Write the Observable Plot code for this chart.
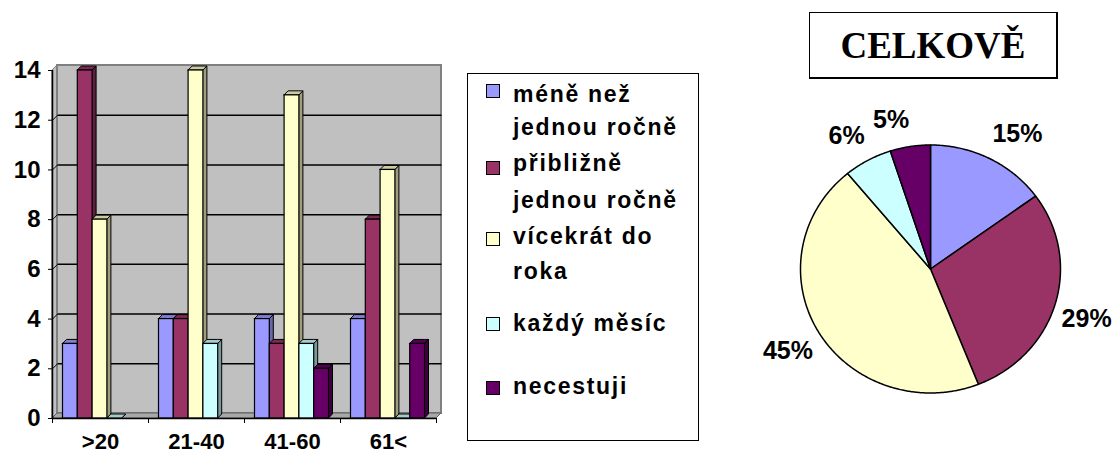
<!DOCTYPE html>
<html><head><meta charset="utf-8">
<script src="https://cdn.jsdelivr.net/npm/d3@7"></script>
<script src="https://cdn.jsdelivr.net/npm/@observablehq/plot@0.6"></script>
<style>
body{margin:0;background:#fff;}
#root{position:relative;width:1117px;height:456px;overflow:hidden;font-family:"Liberation Sans",Arial,sans-serif;}
#root svg{position:absolute;top:0;}
#title{position:absolute;left:809px;top:12px;width:246px;height:64px;border:1px solid #000;border-right-width:2px;border-bottom-width:2px;
  font-family:"Liberation Serif","Times New Roman",serif;font-weight:700;font-size:37px;line-height:66px;text-align:center;}
#legend{position:absolute;left:467px;top:73px;width:230px;height:366px;border:1px solid #000;}
.sw{position:absolute;width:12px;height:12px;border:1px solid #000;}
.lt{position:absolute;font-family:"Liberation Sans",Arial,sans-serif;font-weight:700;font-size:23px;line-height:33px;letter-spacing:1.7px;white-space:nowrap;color:#000;}
</style></head><body><div id="root"></div>
<script>
// ---- data ----
const categories = [">20", "21-40", "41-60", "61<"];
const seriesNames = ["méně než jednou ročně", "přibližně jednou ročně", "vícekrát do roka", "každý měsíc", "necestuji"];
const legendLines = [["méně než", "jednou ročně"], ["přibližně", "jednou ročně"], ["vícekrát do", "roka"], ["každý měsíc"], ["necestuji"]];
const lessThanOnce = [3, 4, 4, 4];
const aboutOnce = [14, 4, 3, 8];
const severalTimes = [8, 14, 13, 10];
const everyMonth = [0, 3, 3, 0];
const notTravel = [null, null, 2, 3];
const yTicks = [0, 2, 4, 6, 8, 10, 12, 14];
const pieTitle = "CELKOVĚ";

// ---- styles ----
const colors = ["#9999FF", "#993366", "#FFFFCC", "#CCFFFF", "#660066"];
const topColors = ["#7F7FCC", "#7A2952", "#CCCCA3", "#A3CCCC", "#520052"];
const sideColors = ["#6666A8", "#5C1F3D", "#9E9E7E", "#7A9999", "#3D003D"];
const series = [lessThanOnce, aboutOnce, severalTimes, everyMonth, notTravel];

const root = document.getElementById("root");

// ---- bar chart ----
const W1 = 465, H = 456, mL = 52, mR = W1 - 436, mT = 70, mB = H - 418;
const pxX = (W1 - mR - mL) / 4, pxY = (H - mB - mT) / 14;
const WDX = 5 / pxX, WDY = 5 / pxY, BDX = 4 / pxX, BDY = 4 / pxY;
const OFF = 10.5 / pxX, BW = 14.8 / pxX;

const bars = [];
categories.forEach((c, i) => series.forEach((s, j) => {
  const v = s[i];
  if (v == null) return;
  const x1 = i + OFF + j * BW;
  bars.push({id: i + "-" + j, j, v, x1, x2: x1 + BW});
}));
const sides = bars.flatMap(b => [
  {id: b.id, j: b.j, x: b.x2, y1: 0, y2: b.v},
  {id: b.id, j: b.j, x: b.x2 + BDX, y1: BDY, y2: b.v + BDY}
]);
const tops = bars.flatMap(b => [
  {id: b.id, j: b.j, x: b.x1, y1: b.v, y2: b.v},
  {id: b.id, j: b.j, x: b.x1 + BDX, y1: b.v, y2: b.v + BDY},
  {id: b.id, j: b.j, x: b.x2, y1: b.v, y2: b.v + BDY},
  {id: b.id, j: b.j, x: b.x2 + BDX, y1: b.v + BDY, y2: b.v + BDY}
]);
const grid = yTicks.filter(t => t > 0 && t < 14);
const floor = [
  {x: 0, y1: 0, y2: 0}, {x: WDX, y1: 0, y2: WDY}, {x: 4, y1: 0, y2: WDY}, {x: 4 + WDX, y1: WDY, y2: WDY}
];
const leftWall = [{x: 0, y1: 0, y2: 14}, {x: WDX, y1: WDY, y2: 14 + WDY}];

const bar = Plot.plot({
  width: W1, height: H, marginLeft: mL, marginRight: mR, marginTop: mT, marginBottom: mB,
  x: {domain: [0, 4]}, y: {domain: [0, 14]},
  color: {type: "identity"},
  style: {background: "transparent", fontFamily: "Liberation Sans, Arial, sans-serif", fontSize: "24px", fontWeight: "bold", color: "#000", overflow: "visible"},
  marks: [
    Plot.areaY(leftWall, {x: "x", y1: "y1", y2: "y2", fill: "#C0C0C0", stroke: "#808080", strokeWidth: 1}),
    Plot.rect([0], {x1: WDX, x2: 4 + WDX, y1: WDY, y2: 14 + WDY, fill: "#C0C0C0", stroke: "#808080", strokeWidth: 2}),
    Plot.areaY(floor, {x: "x", y1: "y1", y2: "y2", fill: "#A8A8A8", stroke: "#606060", strokeWidth: 1}),
    Plot.link(grid, {x1: WDX, x2: 4 + WDX, y1: d => d + WDY, y2: d => d + WDY, stroke: "#000", strokeWidth: 1.5}),
    Plot.link(grid, {x1: 0, x2: WDX, y1: d => d, y2: d => d + WDY, stroke: "#000", strokeWidth: 1}),
    Plot.areaY(sides, {x: "x", y1: "y1", y2: "y2", z: "id", fill: d => sideColors[d.j], stroke: "#000", strokeWidth: 1}),
    Plot.areaY(tops, {x: "x", y1: "y1", y2: "y2", z: "id", fill: d => topColors[d.j], stroke: "#000", strokeWidth: 1}),
    Plot.rect(bars, {x1: "x1", x2: "x2", y1: 0, y2: "v", fill: d => colors[d.j], stroke: "#000", strokeWidth: 1.2}),
    Plot.ruleX([0], {y1: 0, y2: 14, stroke: "#000", strokeWidth: 1.5}),
    Plot.ruleY([0], {x1: 0, x2: 4, stroke: "#000", strokeWidth: 1.5}),
    Plot.axisY({ticks: yTicks, tickSize: 4, tickPadding: 8, label: null, fontSize: 24, fontWeight: "bold", stroke: "#000"}),
    Plot.axisX({ticks: [0, 1, 2, 3, 4], tickSize: 5, tickFormat: () => "", label: null, stroke: "#000"}),
    Plot.axisX({ticks: categories.map((c, i) => i + 0.5), tickSize: 0, tickPadding: 15, label: null,
      tickFormat: d => categories[Math.floor(d)], fontSize: 22, fontWeight: "bold"})
  ]
});
bar.style.left = "0px";
root.appendChild(bar);

// ---- legend ----
const legend = document.createElement("div");
legend.id = "legend";
root.appendChild(legend);
const swTops = [83, 160, 231, 316, 380];
const baselines = [[101, 134], [170, 207], [243, 278], [330], [393]];
legendLines.forEach((lines, k) => {
  const sw = document.createElement("div");
  sw.className = "sw";
  sw.style.left = (485 - 467) + "px";
  sw.style.top = (swTops[k] - 73) + "px";
  sw.style.background = colors[k];
  sw.title = seriesNames[k];
  legend.appendChild(sw);
  lines.forEach((t, l) => {
    const d = document.createElement("div");
    d.className = "lt";
    d.textContent = t;
    d.style.left = (512 - 467) + "px";
    d.style.top = (baselines[k][l] - 24 - 73) + "px";
    legend.appendChild(d);
  });
});

// ---- pie ----
const W2 = 377, RX = 130, RY = 124, CX = 190, CY = 268.5;
const pieVals = series.map(s => d3.sum(s.filter(v => v != null)));
const total = d3.sum(pieVals);
const arcs = d3.pie().sort(null)(pieVals);
const slices = arcs.map((a, k) => {
  const pts = [{x: 0, y: 0}];
  const n = Math.max(2, Math.ceil((a.endAngle - a.startAngle) / (Math.PI / 360)));
  for (let t = 0; t <= n; t++) {
    const ang = a.startAngle + (a.endAngle - a.startAngle) * t / n;
    pts.push({x: Math.sin(ang), y: Math.cos(ang)});
  }
  pts.push({x: 0, y: 0});
  return pts;
});
const R0X = 1.05, R0Y = 1.15;
const labelMarks = arcs.map((a, k) => {
  const m = (a.startAngle + a.endAngle) / 2;
  const sx = Math.sin(m), cy = Math.cos(m);
  return Plot.text([{x: R0X * sx, y: R0Y * cy, t: Math.round(pieVals[k] / total * 100) + "%"}], {
    x: "x", y: "y", text: "t",
    textAnchor: sx >= 0 ? "start" : "end",
    lineAnchor: cy >= 0 ? "bottom" : "top",
    fontSize: 25, fontWeight: "bold", fill: "#000"
  });
});
const pie = Plot.plot({
  width: W2, height: H, margin: 0,
  x: {domain: [-CX / RX, (W2 - CX) / RX]},
  y: {domain: [-(H - CY) / RY, CY / RY]},
  axis: null,
  style: {background: "transparent", fontFamily: "Liberation Sans, Arial, sans-serif", overflow: "visible"},
  marks: [
    ...slices.map((pts, k) => Plot.line(pts, {x: "x", y: "y", fill: colors[k], stroke: "#000", strokeWidth: 1.5, strokeLinejoin: "round"})),
    ...labelMarks
  ]
});
pie.style.left = "740px";
root.appendChild(pie);

// ---- title ----
const title = document.createElement("div");
title.id = "title";
title.textContent = pieTitle;
root.appendChild(title);
</script>
</body></html>
